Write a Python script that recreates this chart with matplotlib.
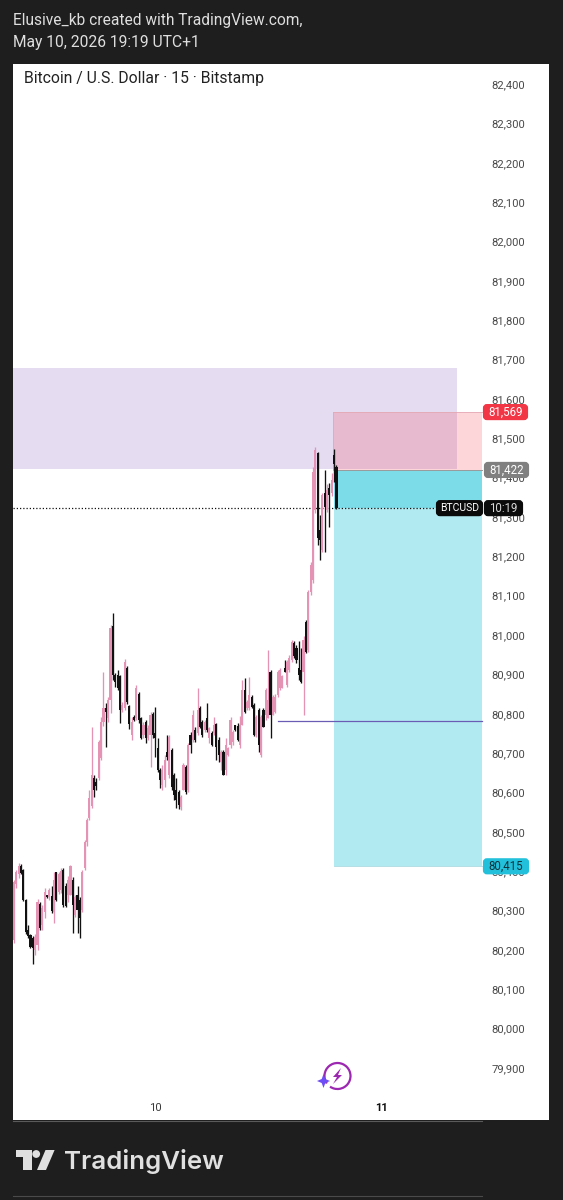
import matplotlib
matplotlib.use("Agg")
import matplotlib.pyplot as plt
import numpy as np
from matplotlib.patches import Rectangle, FancyBboxPatch, Polygon, Circle, Arc
from matplotlib.transforms import ScaledTranslation

plt.rcParams["font.family"] = ["Roboto", "DejaVu Sans"]

opens = [80228, 80371, 80396, 80416, 80406, 80330, 80254, 80241, 80233, 80203, 80216, 80320, 80266, 80300,
         80343, 80338, 80340, 80300, 80401, 80350, 80355, 80406, 80366, 80343, 80343, 80381, 80292, 80343,
         80330, 80305, 80411, 80477, 80538, 80569, 80640, 80630, 80640, 80691, 80782, 80818, 80792, 80838,
         81026, 80901, 80901, 80899, 80813, 80818, 80919, 80823, 80749, 80795, 80792, 80853, 80792, 80749,
         80782, 80741, 80749, 80802, 80754, 80716, 80660, 80622, 80635, 80706, 80648, 80711, 80648, 80609,
         80604, 80566, 80609, 80668, 80609, 80749, 80736, 80762, 80754, 80818, 80782, 80762, 80792, 80741,
         80754, 80754, 80777, 80736, 80681, 80706, 80660, 80698, 80724, 80731, 80775, 80772, 80724, 80775,
         80863, 80818, 80818, 80846, 80825, 80749, 80813, 80698, 80813, 80800, 80792, 80909, 80800, 80807,
         80851, 80868, 80868, 80919, 80876, 80914, 80940, 80983, 80970, 80919, 80914, 80909, 81036, 80965,
         81112, 81143, 81321, 81465, 81270, 81219, 81364, 81321, 81377, 81364, 81460, 81430]
highs = [80381, 80406, 80424, 80421, 80409, 80333, 80266, 80244, 80239, 80244, 80333, 80325, 80317, 80360,
         80343, 80360, 80366, 80401, 80401, 80401, 80411, 80411, 80373, 80391, 80419, 80388, 80343, 80366,
         80338, 80406, 80482, 80538, 80609, 80769, 80648, 80640, 80736, 80795, 80909, 80830, 80845, 81029,
         81059, 80907, 80914, 80901, 80833, 80942, 80924, 80825, 80795, 80800, 80876, 80858, 80795, 80782,
         80787, 80775, 80807, 80807, 80820, 80741, 80665, 80673, 80698, 80749, 80749, 80716, 80653, 80640,
         80609, 80597, 80678, 80673, 80729, 80757, 80813, 80769, 80868, 80823, 80787, 80787, 80830, 80769,
         80759, 80795, 80780, 80744, 80711, 80711, 80741, 80719, 80795, 80762, 80775, 80780, 80797, 80889,
         80894, 80838, 80896, 80851, 80830, 80800, 80818, 80800, 80818, 80868, 80965, 80914, 80851, 80853,
         80914, 80919, 80901, 80940, 80940, 80952, 80990, 80988, 80978, 80988, 80970, 81000, 81041, 81117,
         81188, 81430, 81481, 81468, 81308, 81364, 81422, 81387, 81389, 81415, 81476, 81435]
lows = [80221, 80360, 80386, 80396, 80327, 80244, 80233, 80208, 80167, 80190, 80203, 80254, 80254, 80284,
        80335, 80330, 80297, 80272, 80327, 80345, 80348, 80312, 80312, 80325, 80343, 80246, 80287, 80246,
        80233, 80300, 80406, 80467, 80533, 80564, 80592, 80609, 80635, 80686, 80772, 80719, 80782, 80805,
        80889, 80871, 80863, 80780, 80808, 80813, 80828, 80764, 80736, 80785, 80787, 80780, 80739, 80741,
        80729, 80736, 80668, 80741, 80693, 80655, 80615, 80609, 80617, 80686, 80640, 80609, 80584, 80564,
        80561, 80559, 80609, 80599, 80604, 80703, 80731, 80731, 80749, 80767, 80744, 80757, 80757, 80729,
        80721, 80749, 80686, 80681, 80660, 80648, 80648, 80696, 80716, 80724, 80759, 80734, 80716, 80775,
        80805, 80813, 80813, 80818, 80746, 80744, 80706, 80693, 80769, 80787, 80792, 80741, 80800, 80805,
        80846, 80863, 80868, 80909, 80871, 80909, 80935, 80945, 80932, 80889, 80881, 80800, 80958, 80960,
        81105, 81135, 81313, 81232, 81194, 81214, 81214, 81315, 81278, 81355, 81392, 81322]
closes = [80376, 80401, 80416, 80399, 80330, 80249, 80239, 80211, 80208, 80236, 80325, 80259, 80310, 80350,
          80338, 80355, 80302, 80381, 80330, 80396, 80404, 80317, 80315, 80381, 80416, 80317, 80338, 80305,
          80284, 80401, 80477, 80533, 80589, 80648, 80609, 80620, 80731, 80782, 80818, 80807, 80838, 81021,
          80902, 80883, 80868, 80813, 80825, 80935, 80833, 80777, 80782, 80787, 80868, 80787, 80741, 80775,
          80741, 80767, 80800, 80749, 80741, 80660, 80635, 80660, 80686, 80693, 80744, 80617, 80597, 80584,
          80571, 80592, 80673, 80604, 80724, 80724, 80800, 80736, 80813, 80769, 80749, 80782, 80762, 80767,
          80724, 80775, 80719, 80698, 80706, 80648, 80724, 80716, 80787, 80757, 80762, 80736, 80775, 80863,
          80807, 80833, 80851, 80820, 80749, 80795, 80724, 80795, 80769, 80863, 80838, 80800, 80846, 80846,
          80909, 80914, 80899, 80909, 80935, 80945, 80985, 80950, 80940, 80901, 80884, 80990, 80960, 81112,
          81181, 81417, 81473, 81249, 81244, 81359, 81328, 81371, 81359, 81397, 81437, 81325]

price_ticks = list(range(79900, 82500, 100))
day_ticks = [60, 156]
day_labels = ["10", "11"]

zone_top, zone_bottom = 81680, 81424
stop_price, entry_price, target_price = 81569, 81422, 80415
level_price = 80784

BG = "#1e1e1e"
PINK = "#e493b5"
BLACK = "#111111"

fig = plt.figure(figsize=(5.63, 12), dpi=100, facecolor=BG)


def px_axes(x0, y0, x1, y1):
    return [x0 / 563, 1 - y1 / 1200, (x1 - x0) / 563, (y1 - y0) / 1200]


ax = fig.add_axes(px_axes(13, 64, 549, 1120), facecolor="white")
ax.set_xlim(-0.425, 227.3)
ax.set_ylim(79770.4, 82453.4)
for s in ax.spines.values():
    s.set_visible(False)

idx = np.arange(len(opens))
o, h, l, c = map(np.array, (opens, highs, lows, closes))
colors = [PINK if a >= b else BLACK for a, b in zip(c, o)]

plot_right = 198.8
ax.add_patch(Rectangle((-0.425, zone_bottom), 188.6, zone_top - zone_bottom, fc="#e5dcf2", ec="none", zorder=1))
ax.add_patch(Rectangle((135.5, entry_price), plot_right - 135.5, stop_price - entry_price,
                       fc=(0.949, 0.212, 0.271, 0.2), ec="none", zorder=2))
ax.plot([135.5, plot_right], [stop_price, stop_price], color="#e3a9b4", lw=0.6, zorder=2)
ax.plot([135.5, 135.5], [entry_price, stop_price], color="#e3a9b4", lw=0.6, zorder=2)
ax.add_patch(Rectangle((136, target_price), plot_right - 136, entry_price - target_price,
                       fc=(0, 0.737, 0.831, 0.3), ec="none", zorder=2))
ax.add_patch(Rectangle((136, closes[-1]), plot_right - 136, entry_price - closes[-1],
                       fc=(0, 0.737, 0.831, 0.3), ec="none", zorder=2))
ax.plot([136, plot_right], [entry_price, entry_price], color="#9a9a9a", lw=0.7, zorder=3)
ax.plot([136, plot_right], [target_price, target_price], color="#a8d8e0", lw=0.6, zorder=3)

ax.plot([112.2, plot_right], [level_price, level_price], color="#6a5cb5", lw=0.9, zorder=3)
ax.plot([-0.425, plot_right], [closes[-1], closes[-1]], color="#111111", lw=0.9, ls=(0, (1, 1.6)), zorder=3)

ax.vlines(idx, l, h, colors=colors, lw=0.95, zorder=4)
ax.bar(idx, np.abs(c - o), bottom=np.minimum(o, c), width=0.9, color=colors, lw=0, zorder=5)

ax.yaxis.tick_right()
ax.set_yticks(price_ticks)
ax.set_yticklabels([f"{p:,}" for p in price_ticks])
ax.tick_params(axis="y", length=0, pad=-41.5, labelsize=8.1, labelcolor="#4a4a4a")
for lab in ax.get_yticklabels():
    lab.set_transform(lab.get_transform() + ScaledTranslation(0, 1 / 100, fig.dpi_scale_trans))
ax.set_xticks(day_ticks)
ax.set_xticklabels(day_labels)
ax.tick_params(axis="x", length=0, pad=-12.5, labelsize=8.1, labelcolor="#3a3a3a")
ax.get_xticklabels()[1].set_color("#111111")
ax.get_xticklabels()[1].set_fontweight("bold")

# overlay in pixel coordinates for badges, logo and header
ov = fig.add_axes([0, 0, 1, 1], facecolor="none")
ov.set_xlim(0, 563)
ov.set_ylim(1200, 0)
ov.axis("off")


def price_y(p):
    return 1200 - ax.transData.transform((0, p))[1]


def badge(price, x0, x1, fc, text, tc="white", h=16, size=8.3):
    y = price_y(price)
    ov.add_patch(FancyBboxPatch((x0 + 2, y - h / 2 + 2), x1 - x0 - 4, h - 4,
                                boxstyle="round,pad=0,rounding_size=2", mutation_aspect=1,
                                fc=fc, ec=fc, lw=3, zorder=6))
    ov.text((x0 + x1) / 2, y + 0.3, text, color=tc, fontsize=size, ha="center", va="center", zorder=7)


badge(stop_price, 483, 528, "#f23645", f"{stop_price:,}")
badge(entry_price, 484, 529, "#808080", f"{entry_price:,}")
badge(target_price, 483, 529, "#22c0da", f"{target_price:,}", tc="#10343c")
badge(closes[-1], 436, 483, "#0b0b0b", "BTCUSD", size=7.5)
badge(closes[-1], 484, 523, "#0b0b0b", "10:19", tc="#d8d8d8")

ov.text(13, 20.5, "Elusive_kb created with TradingView.com,", color="#dedede", fontsize=11.2, va="center")
ov.text(13, 43, "May 10, 2026 19:19 UTC+1", color="#dedede", fontsize=11.25, va="center")
ov.text(23.5, 78, "Bitcoin / U.S. Dollar · 15 · Bitstamp", color="#222222", fontsize=11.3, va="center")

ov.plot([13, 482], [1120.5, 1120.5], color="#5a5a5a", lw=0.8)
ov.plot([13, 482], [1196, 1196], color="#4a4a4a", lw=0.8)

# energy icon
ov.add_patch(Arc((337.5, 1076), 26, 26, theta1=-215, theta2=125, color="#9c27b0", lw=1.6))
ov.add_patch(Polygon([[341, 1068], [333, 1077], [337, 1077], [333, 1084], [342, 1075], [338, 1075]],
                     fc="#9c27b0", ec="none"))
ov.add_patch(Polygon([[323.5, 1074], [325.3, 1079], [330, 1081], [325.3, 1083], [323.5, 1088],
                      [321.7, 1083], [317, 1081], [321.7, 1079]], fc="#6e4df6", ec="none"))

# TradingView logo
LOGO = "#e0e0e0"
ov.add_patch(Polygon([[16, 1150], [31.5, 1150], [31.5, 1170], [22.5, 1170], [22.5, 1156.5], [16, 1156.5]],
                     fc=LOGO, ec="none"))
ov.add_patch(Circle((36.2, 1154), 3.9, fc=LOGO, ec="none"))
ov.add_patch(Polygon([[45.5, 1150], [54.6, 1150], [46, 1170], [37, 1170]], fc=LOGO, ec="none"))
ov.text(64, 1161, "TradingView", color=LOGO, fontsize=18.6, fontfamily="Inter", fontweight="semibold", va="center")

fig.savefig("out.png", dpi=100, facecolor=BG)
